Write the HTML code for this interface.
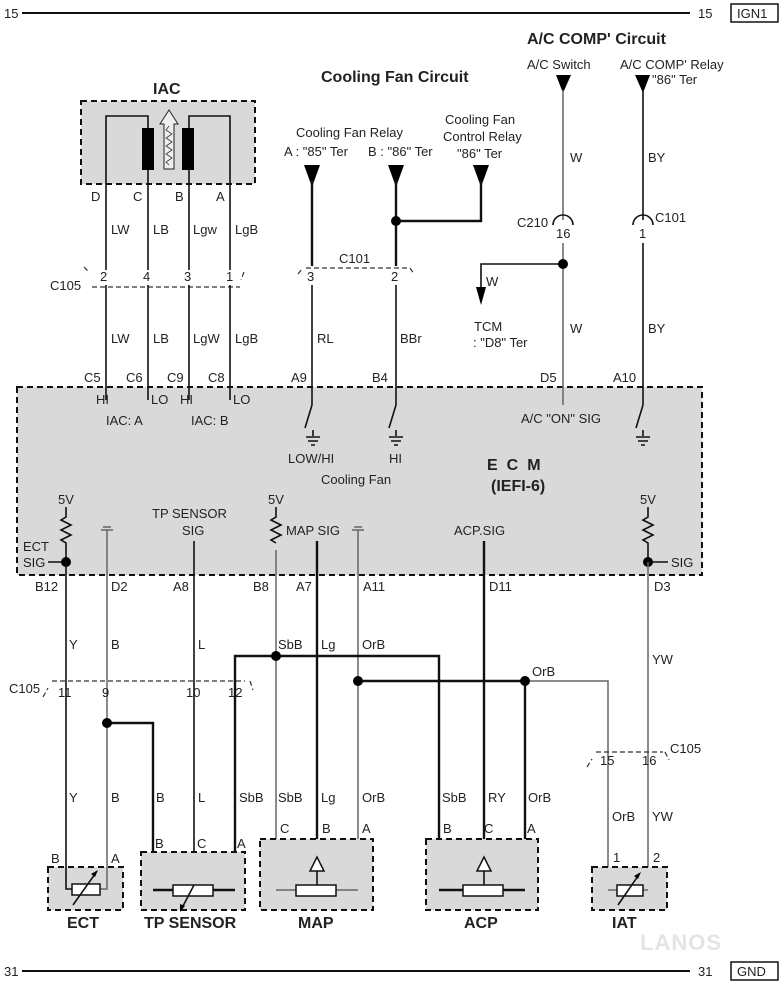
<!DOCTYPE html>
<html><head><meta charset="utf-8"><style>
html,body{margin:0;padding:0;background:#fff;}
svg{display:block;font-family:"Liberation Sans",Arial,sans-serif;}
text{font-size:13px;fill:#222;}
.b{font-weight:bold;font-size:16px;}
.w{stroke:#111;stroke-width:1.6;fill:none;}
.g{stroke:#666;stroke-width:1.5;fill:none;}
.t{stroke:#111;stroke-width:2.4;fill:none;}
.box{fill:#d9d9d9;stroke:#111;stroke-width:2;stroke-dasharray:6,4;}
.cn{fill:none;stroke:#333;stroke-width:1.2;stroke-dasharray:5,3;}
</style></head><body>
<svg width="782" height="988" viewBox="0 0 782 988">
<!-- top / bottom rails -->
<line x1="22" y1="13" x2="690" y2="13" stroke="#111" stroke-width="2"/>
<text x="4" y="18">15</text><text x="698" y="18">15</text>
<rect x="731" y="4" width="47" height="18" fill="none" stroke="#111" stroke-width="1.5"/><text x="737" y="18">IGN1</text>
<line x1="22" y1="971" x2="690" y2="971" stroke="#111" stroke-width="2"/>
<text x="4" y="976">31</text><text x="698" y="976">31</text>
<rect x="731" y="962" width="47" height="18" fill="none" stroke="#111" stroke-width="1.5"/><text x="737" y="976">GND</text>
<text x="640" y="950" style="font-size:22px;font-weight:bold;fill:#e4e4e4;letter-spacing:1px">LANOS</text>

<!-- ECM box -->
<rect class="box" x="17" y="387" width="685" height="188"/>
<text class="b" x="487" y="470" style="letter-spacing:9px">ECM</text>
<text class="b" x="491" y="491">(IEFI-6)</text>

<!-- IAC -->
<text class="b" x="153" y="94">IAC</text>
<rect class="box" x="81" y="101" width="174" height="83"/>
<polyline class="w" points="106,220 106,116 148,116 148,132"/>
<polyline class="w" points="230,220 230,116 189,116 189,132"/>
<rect x="142" y="128" width="12" height="42" fill="#000"/>
<rect x="182" y="128" width="12" height="42" fill="#000"/>
<line class="w" x1="148" y1="170" x2="148" y2="220"/>
<line class="w" x1="189" y1="170" x2="189" y2="220"/>
<path d="M160,124 L169,110 L178,124 L174,124 L174,169 L164,169 L164,124 Z" fill="#eee" stroke="#222" stroke-width="1"/>
<path d="M169,126 l-3,4 l6,4 l-6,4 l6,4 l-6,4 l6,4 l-6,4 l6,4 l-6,4 l3,3" fill="none" stroke="#333" stroke-width="0.8"/>
<text x="91" y="201">D</text><text x="133" y="201">C</text><text x="175" y="201">B</text><text x="216" y="201">A</text>
<text x="111" y="234">LW</text><text x="153" y="234">LB</text><text x="193" y="234">Lgw</text><text x="235" y="234">LgB</text>
<text x="50" y="290">C105</text>
<path class="cn" d="M84,267 l5,5 M92,287 L240,287 M244,272 l-3,8"/>
<text x="100" y="281">2</text><text x="143" y="281">4</text><text x="184" y="281">3</text><text x="226" y="281">1</text>
<line class="w" x1="106" y1="220" x2="106" y2="270"/><line class="w" x1="148" y1="220" x2="148" y2="270"/>
<line class="w" x1="189" y1="220" x2="189" y2="270"/><line class="w" x1="230" y1="220" x2="230" y2="270"/>
<line class="w" x1="106" y1="285" x2="106" y2="400"/><line class="w" x1="148" y1="285" x2="148" y2="400"/>
<line class="w" x1="189" y1="285" x2="189" y2="400"/><line class="w" x1="230" y1="285" x2="230" y2="400"/>
<text x="111" y="343">LW</text><text x="153" y="343">LB</text><text x="193" y="343">LgW</text><text x="235" y="343">LgB</text>
<text x="84" y="382">C5</text><text x="126" y="382">C6</text><text x="167" y="382">C9</text><text x="208" y="382">C8</text>
<text x="96" y="404">HI</text><text x="151" y="404">LO</text><text x="180" y="404">HI</text><text x="233" y="404">LO</text>
<text x="106" y="425">IAC: A</text><text x="191" y="425">IAC: B</text>

<!-- Cooling fan -->
<text class="b" x="321" y="82">Cooling Fan Circuit</text>
<text x="296" y="137">Cooling Fan Relay</text>
<text x="284" y="156">A : "85" Ter</text><text x="368" y="156">B : "86" Ter</text>
<text x="445" y="124">Cooling Fan</text><text x="443" y="141">Control Relay</text><text x="457" y="158">"86" Ter</text>
<path d="M304,165 L320,165 L312,187 Z" fill="#000"/>
<path d="M388,165 L404,165 L396,187 Z" fill="#000"/>
<path d="M473,165 L489,165 L481,187 Z" fill="#000"/>
<line class="t" x1="312" y1="180" x2="312" y2="266"/>
<line class="t" x1="396" y1="180" x2="396" y2="266"/>
<polyline class="t" points="396,221 481,221 481,180"/>
<circle cx="396" cy="221" r="5" fill="#000"/>
<text x="339" y="263">C101</text>
<path class="cn" d="M298,274 l4,-5 M306,268 L410,268 M410,268 l4,6"/>
<text x="307" y="281">3</text><text x="391" y="281">2</text>
<line class="w" x1="312" y1="285" x2="312" y2="405"/>
<line class="w" x1="396" y1="285" x2="396" y2="405"/>
<polyline class="w" points="312,405 305,428"/><polyline class="w" points="396,405 389,428"/>
<text x="317" y="343">RL</text><text x="400" y="343">BBr</text>
<text x="291" y="382">A9</text><text x="372" y="382">B4</text>
<path class="w" d="M313,430 v6 M306,437 h14 M308,441 h10 M311,445 h4"/>
<path class="w" d="M396,430 v6 M389,437 h14 M391,441 h10 M394,445 h4"/>
<text x="288" y="463">LOW/HI</text><text x="389" y="463">HI</text>
<text x="321" y="484">Cooling Fan</text>

<!-- A/C -->
<text class="b" x="527" y="44">A/C COMP' Circuit</text>
<text x="527" y="69">A/C Switch</text>
<text x="620" y="69">A/C COMP' Relay</text><text x="652" y="84">"86" Ter</text>
<path d="M556,75 L571,75 L563,93 Z" fill="#000"/>
<path d="M635,75 L650,75 L643,93 Z" fill="#000"/>
<line class="g" x1="563" y1="90" x2="563" y2="220"/>
<line class="w" x1="643" y1="90" x2="643" y2="220"/>
<path d="M553,225 a10,10 0 0 1 20,0" class="w"/>
<path d="M633,225 a10,10 0 0 1 20,0" class="w"/>
<text x="517" y="227">C210</text><text x="556" y="238">16</text>
<text x="655" y="222">C101</text><text x="639" y="238">1</text>
<text x="570" y="162">W</text><text x="648" y="162">BY</text>
<line class="g" x1="563" y1="243" x2="563" y2="405"/>
<line class="w" x1="643" y1="243" x2="643" y2="405"/>
<polyline class="w" points="563,264 481,264 481,290"/>
<path d="M476,287 L486,287 L481,305 Z" fill="#000"/>
<circle cx="563" cy="264" r="5" fill="#000"/>
<text x="486" y="286">W</text>
<text x="474" y="331">TCM</text><text x="473" y="347">: "D8" Ter</text>
<text x="570" y="333">W</text><text x="648" y="333">BY</text>
<text x="540" y="382">D5</text><text x="613" y="382">A10</text>
<text x="521" y="423">A/C "ON" SIG</text>
<polyline class="w" points="643,405 636,428"/>
<path class="w" d="M643,430 v6 M636,437 h14 M638,441 h10 M641,445 h4"/>

<!-- lower ECM internals -->
<text x="58" y="504">5V</text><text x="268" y="504">5V</text><text x="640" y="504">5V</text>
<path class="w" d="M66,507 v10 l-5,3 l10,5 l-10,5 l10,5 l-10,5 l5,3 v19"/>
<path class="w" d="M276,507 v10 l-5,3 l10,5 l-10,5 l10,5 l-10,5 l5,3"/>
<path class="w" d="M648,507 v10 l-5,3 l10,5 l-10,5 l10,5 l-10,5 l5,3 v19"/>
<text x="23" y="551">ECT</text><text x="23" y="567">SIG</text>
<line class="w" x1="48" y1="562" x2="66" y2="562"/><circle cx="66" cy="562" r="5" fill="#000"/>
<circle cx="648" cy="562" r="5" fill="#000"/><line class="w" x1="648" y1="562" x2="668" y2="562"/>
<text x="671" y="567">SIG</text>
<path class="g" d="M101,530 h12 M103,527 h8 M107,530 V690"/>
<path class="g" d="M352,530 h12 M354,527 h8 M358,530 V800"/>
<text x="152" y="518">TP SENSOR</text><text x="182" y="535">SIG</text>
<text x="286" y="535">MAP SIG</text><text x="454" y="535">ACP.SIG</text>
<text x="35" y="591">B12</text><text x="111" y="591">D2</text><text x="173" y="591">A8</text>
<text x="253" y="591">B8</text><text x="296" y="591">A7</text><text x="363" y="591">A11</text>
<text x="489" y="591">D11</text><text x="654" y="591">D3</text>

<!-- lower wires -->
<line class="w" x1="66" y1="562" x2="66" y2="858"/>
<line class="g" x1="107" y1="690" x2="107" y2="858"/>
<line class="w" x1="194" y1="541" x2="194" y2="885"/>
<line class="g" x1="276" y1="550" x2="276" y2="890"/>
<line class="t" x1="317" y1="541" x2="317" y2="858"/>
<line class="g" x1="358" y1="800" x2="358" y2="890"/>
<line class="t" x1="484" y1="541" x2="484" y2="858"/>
<line class="g" x1="648" y1="562" x2="648" y2="890"/>
<polyline class="t" points="235,890 235,656 439,656 439,890"/>
<circle cx="276" cy="656" r="5" fill="#000"/>
<polyline class="t" points="358,681 525,681 525,890"/>
<polyline class="g" points="525,681 608,681 608,890"/>
<circle cx="358" cy="681" r="5" fill="#000"/><circle cx="525" cy="681" r="5" fill="#000"/>
<polyline class="t" points="107,723 153,723 153,890"/>
<circle cx="107" cy="723" r="5" fill="#000"/>
<text x="69" y="649">Y</text><text x="111" y="649">B</text><text x="198" y="649">L</text>
<text x="278" y="649">SbB</text><text x="321" y="649">Lg</text><text x="362" y="649">OrB</text>
<text x="652" y="664">YW</text><text x="532" y="676">OrB</text>
<text x="9" y="693">C105</text>
<path class="cn" d="M43,697 l5,-9 M52,681 L245,681 M250,681 l3,9"/>
<text x="58" y="697">11</text><text x="102" y="697">9</text><text x="186" y="697">10</text><text x="228" y="697">12</text>
<path class="cn" d="M587,767 l5,-8 M596,752 L663,752 M665,752 l4,8"/>
<text x="600" y="765">15</text><text x="642" y="765">16</text><text x="670" y="753">C105</text>
<text x="69" y="802">Y</text><text x="111" y="802">B</text><text x="156" y="802">B</text><text x="198" y="802">L</text>
<text x="239" y="802">SbB</text><text x="278" y="802">SbB</text><text x="321" y="802">Lg</text><text x="362" y="802">OrB</text>
<text x="442" y="802">SbB</text><text x="488" y="802">RY</text><text x="528" y="802">OrB</text>
<text x="612" y="821">OrB</text><text x="652" y="821">YW</text>

<!-- sensors -->
<rect class="box" x="48" y="867" width="75" height="43"/>
<rect class="box" x="141" y="852" width="104" height="58"/>
<rect class="box" x="260" y="839" width="113" height="71"/>
<rect class="box" x="426" y="839" width="112" height="71"/>
<rect class="box" x="592" y="867" width="75" height="43"/>
<text x="51" y="863">B</text><text x="111" y="863">A</text>
<text x="155" y="848">B</text><text x="197" y="848">C</text><text x="237" y="848">A</text>
<text x="280" y="833">C</text><text x="322" y="833">B</text><text x="362" y="833">A</text>
<text x="443" y="833">B</text><text x="484" y="833">C</text><text x="527" y="833">A</text>
<text x="613" y="862">1</text><text x="653" y="862">2</text>
<!-- ECT -->
<polyline class="w" points="66,858 66,889 72,889"/><polyline class="g" points="107,858 107,889 100,889"/>
<rect x="72" y="884" width="28" height="11" fill="#fff" stroke="#111" stroke-width="1.5"/>
<line class="w" x1="73" y1="905" x2="95" y2="874"/><path d="M98,870 l-7,4 l4,3 z" fill="#000"/>
<!-- TP -->
<polyline class="t" points="153,890 173,890"/><polyline class="t" points="213,890 235,890"/>
<rect x="173" y="885" width="40" height="11" fill="#fff" stroke="#111" stroke-width="1.5"/>
<line class="w" x1="194" y1="885" x2="182" y2="908"/><path d="M180,912 l0,-8 l5,2 z" fill="#000"/>
<!-- MAP -->
<polyline class="g" points="276,890 296,890"/><polyline class="g" points="336,890 358,890"/>
<rect x="296" y="885" width="40" height="11" fill="#fff" stroke="#111" stroke-width="1.5"/>
<path d="M317,857 l-7,14 h14 z" fill="#fff" stroke="#111" stroke-width="1.5"/>
<line class="w" x1="317" y1="871" x2="317" y2="885"/>
<!-- ACP -->
<polyline class="t" points="439,890 463,890"/><polyline class="t" points="503,890 525,890"/>
<rect x="463" y="885" width="40" height="11" fill="#fff" stroke="#111" stroke-width="1.5"/>
<path d="M484,857 l-7,14 h14 z" fill="#fff" stroke="#111" stroke-width="1.5"/>
<line class="w" x1="484" y1="871" x2="484" y2="885"/>
<!-- IAT -->
<polyline class="g" points="608,890 617,890"/><polyline class="g" points="643,890 648,890"/>
<rect x="617" y="885" width="26" height="11" fill="#fff" stroke="#111" stroke-width="1.5"/>
<line class="w" x1="618" y1="905" x2="638" y2="876"/><path d="M641,872 l-7,4 l4,3 z" fill="#000"/>
<text class="b" x="67" y="928">ECT</text><text class="b" x="144" y="928">TP SENSOR</text>
<text class="b" x="298" y="928">MAP</text><text class="b" x="464" y="928">ACP</text><text class="b" x="612" y="928">IAT</text>
</svg>
</body></html>
